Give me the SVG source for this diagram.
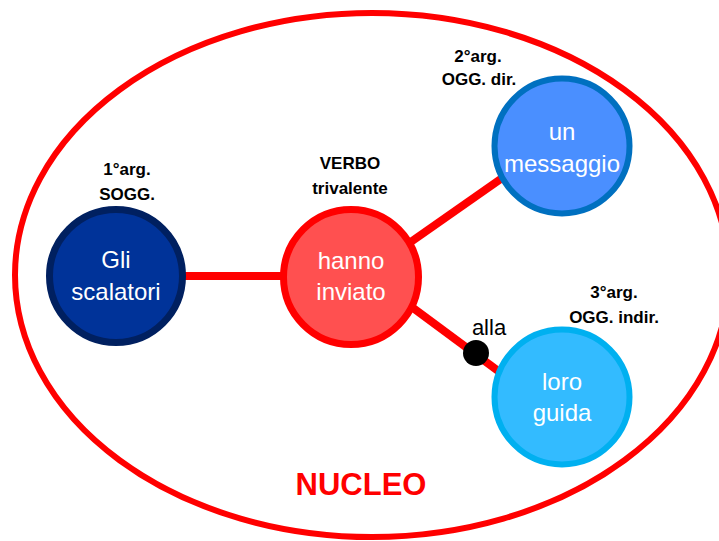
<svg xmlns="http://www.w3.org/2000/svg" width="719" height="541" viewBox="0 0 719 541">
<style>
.node-text{font-family:"Liberation Sans",Arial,sans-serif;font-size:24px;fill:#ffffff;text-anchor:middle}
.lbl{font-family:"Liberation Sans",Arial,sans-serif;font-size:17px;font-weight:bold;fill:#000000;text-anchor:middle}
.conn{stroke:#ff0000;stroke-width:8;fill:none}
</style>
<rect width="719" height="541" fill="#ffffff"/>
<g id="nucleo">
<ellipse cx="372" cy="275" rx="357" ry="262" fill="none" stroke="#ff0000" stroke-width="6"/>
<text x="361" y="495" font-family="'Liberation Sans',Arial,sans-serif" font-size="31" font-weight="bold" fill="#ff0000" text-anchor="middle">NUCLEO</text>
</g>
<g id="connectors">
<line class="conn" x1="180" y1="276" x2="290" y2="276"/>
<line class="conn" x1="405" y1="246" x2="505" y2="176"/>
<line class="conn" x1="405" y1="302" x2="505" y2="376"/>
<circle cx="476" cy="353" r="13" fill="#000000"/>
<text x="489" y="335" font-family="'Liberation Sans',Arial,sans-serif" font-size="22" fill="#000000" text-anchor="middle">alla</text>
</g>
<g id="soggetto">
<circle cx="116" cy="276" r="66.5" fill="#003399" stroke="#002060" stroke-width="7"/>
<text class="node-text" x="116" y="268">Gli</text>
<text class="node-text" x="116" y="300">scalatori</text>
<text class="lbl" x="127" y="175">1°arg.</text>
<text class="lbl" x="127" y="200">SOGG.</text>
</g>
<g id="verbo">
<circle cx="351" cy="277" r="67.5" fill="#ff5050" stroke="#ff0000" stroke-width="7"/>
<text class="node-text" x="351" y="269">hanno</text>
<text class="node-text" x="351" y="300">inviato</text>
<text class="lbl" x="350" y="169">VERBO</text>
<text class="lbl" x="350" y="194">trivalente</text>
</g>
<g id="oggetto-diretto">
<circle cx="562" cy="146" r="67.5" fill="#4a8fff" stroke="#0070c0" stroke-width="6"/>
<text class="node-text" x="562" y="140">un</text>
<text class="node-text" x="562" y="172">messaggio</text>
<text class="lbl" x="478" y="62">2°arg.</text>
<text class="lbl" x="479" y="85">OGG. dir.</text>
</g>
<g id="oggetto-indiretto">
<circle cx="562" cy="397" r="67.5" fill="#33bbff" stroke="#00b0f0" stroke-width="6"/>
<text class="node-text" x="562" y="390">loro</text>
<text class="node-text" x="562" y="421">guida</text>
<text class="lbl" x="614" y="298">3°arg.</text>
<text class="lbl" x="614" y="323">OGG. indir.</text>
</g>
</svg>
